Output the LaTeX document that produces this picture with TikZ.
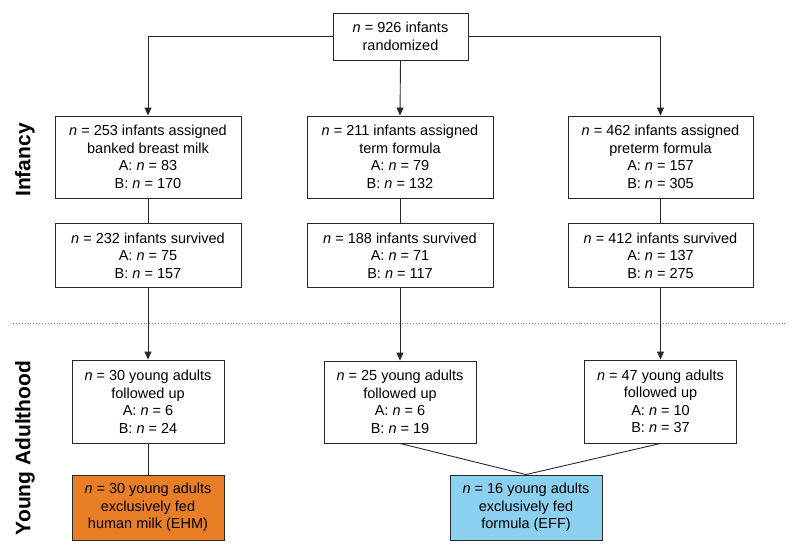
\documentclass[tikz,border=0pt]{standalone}
\usepackage{fontspec}
\setmainfont{Liberation Sans}
\usetikzlibrary{arrows.meta}
\definecolor{linegray}{RGB}{40,40,40}
\definecolor{ehm}{RGB}{232,126,38}
\definecolor{eff}{RGB}{139,208,238}
\tikzset{
  box/.style={draw=linegray, line width=0.9pt, align=center, inner sep=0pt,
    font=\fontsize{14.5}{17.5}\selectfont, fill=white},
  conn/.style={draw=linegray, line width=0.9pt},
  arr/.style={conn, -{Triangle[length=8pt,width=7pt]}},
  phase/.style={font=\fontsize{21}{24}\selectfont\bfseries, rotate=90}
}
\newcommand{\nn}{\textit{n}}
\begin{document}
\begin{tikzpicture}[x=1pt,y=-1pt]
\useasboundingbox (0,0) rectangle (800,554);
% phase labels
\node[phase] (lab1) at (25,160) {Infancy};
\node[phase] (lab2) at (25,448) {Young Adulthood};
\draw[dotted, line width=0.9pt, draw=gray] (13,323) -- (787,323);
% top
\node[box, minimum width=135pt, minimum height=47pt] (top) at (400.5,36.5) {\nn{} = 926 infants\\randomized};
% row 1
\node[box, minimum width=186pt, minimum height=82pt] (a1) at (148,157) {\nn{} = 253 infants assigned\\banked breast milk\\A: \nn{} = 83\\B: \nn{} = 170};
\node[box, minimum width=186pt, minimum height=82pt] (b1) at (400,157) {\nn{} = 211 infants assigned\\term formula\\A: \nn{} = 79\\B: \nn{} = 132};
\node[box, minimum width=185pt, minimum height=82pt] (c1) at (660.5,157) {\nn{} = 462 infants assigned\\preterm formula\\A: \nn{} = 157\\B: \nn{} = 305};
% row 2
\node[box, minimum width=186pt, minimum height=64pt] (a2) at (148,255.5) {\nn{} = 232 infants survived\\A: \nn{} = 75\\B: \nn{} = 157};
\node[box, minimum width=186pt, minimum height=64pt] (b2) at (400,255.5) {\nn{} = 188 infants survived\\A: \nn{} = 71\\B: \nn{} = 117};
\node[box, minimum width=185pt, minimum height=64pt] (c2) at (660.5,255.5) {\nn{} = 412 infants survived\\A: \nn{} = 137\\B: \nn{} = 275};
% row 3
\node[box, minimum width=152pt, minimum height=83pt] (a3) at (148,401.5) {\nn{} = 30 young adults\\followed up\\A: \nn{} = 6\\B: \nn{} = 24};
\node[box, minimum width=152pt, minimum height=82pt] (b3) at (400,402) {\nn{} = 25 young adults\\followed up\\A: \nn{} = 6\\B: \nn{} = 19};
\node[box, minimum width=152pt, minimum height=83pt] (c3) at (660.5,401.5) {\nn{} = 47 young adults\\followed up\\A: \nn{} = 10\\B: \nn{} = 37};
% row 4
\node[box, fill=ehm, minimum width=152pt, minimum height=65pt] (ehm) at (148,507.5) {\nn{} = 30 young adults\\exclusively fed\\human milk (EHM)};
\node[box, fill=eff, minimum width=152pt, minimum height=65pt] (eff) at (526,507.5) {\nn{} = 16 young adults\\exclusively fed\\formula (EFF)};
% connectors
\draw[arr] (top.west) -| (a1.north);
\draw[arr] (top.south) -- (b1.north);
\draw[arr] (top.east) -| (c1.north);
\draw[conn] (a1.south) -- (a2.north);
\draw[conn] (b1.south) -- (b2.north);
\draw[conn] (c1.south) -- (c2.north);
\draw[arr] (a2.south) -- (a3.north);
\draw[arr] (b2.south) -- (b3.north);
\draw[arr] (c2.south) -- (c3.north);
\draw[conn] (a3.south) -- (ehm.north);
\draw[conn] (b3.south) -- (eff.north);
\draw[conn] (c3.south) -- (eff.north);
\end{tikzpicture}
\end{document}
